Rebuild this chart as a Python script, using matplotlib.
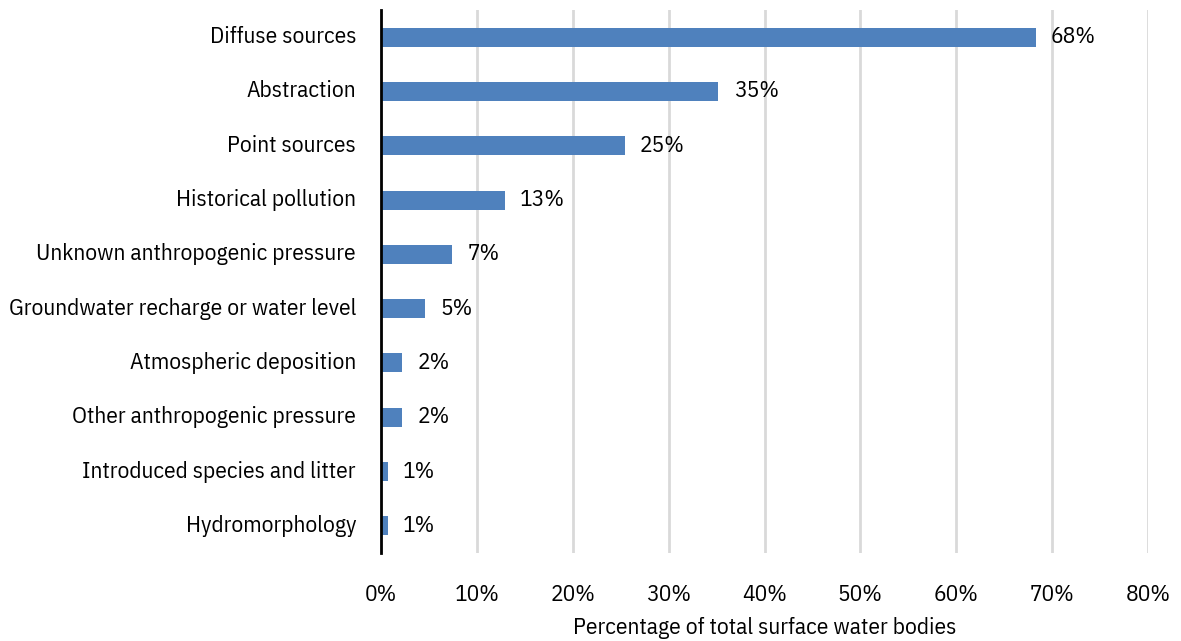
import matplotlib.pyplot as plt
import matplotlib.transforms as mtransforms
from matplotlib.ticker import PercentFormatter

categories = ['Diffuse sources', 'Abstraction', 'Point sources', 'Historical pollution',
              'Unknown anthropogenic pressure', 'Groundwater recharge or water level',
              'Atmospheric deposition', 'Other anthropogenic pressure',
              'Introduced species and litter', 'Hydromorphology']
values = [68.3, 35.2, 25.4, 12.9, 7.4, 4.6, 2.2, 2.2, 0.7, 0.7]
labels = ['68%', '35%', '25%', '13%', '7%', '5%', '2%', '2%', '1%', '1%']

plt.rcParams['font.family'] = ['IBM Plex Sans Condensed', 'DejaVu Sans']
plt.rcParams['font.size'] = 16.8

fig = plt.figure(figsize=(11.81, 6.41), dpi=100)
ax = fig.add_axes([381 / 1181, 1 - 553 / 641, (1148 - 381) / 1181, (553 - 10) / 641])

y = list(range(len(categories)))
ax.barh(y, values, height=0.35, color='#4f81bd', zorder=3)
for yi, v, lab in zip(y, values, labels):
    ax.annotate(lab, (v, yi), xytext=(11, 0), textcoords='offset points',
                va='center', ha='left')

ax.set_yticks(y)
ax.set_yticklabels(categories)
ax.set_ylim(len(categories) - 0.5, -0.5)
ax.set_xlim(0, 80)
ax.set_xticks(range(0, 81, 10))
ax.xaxis.set_major_formatter(PercentFormatter(decimals=0))
ax.grid(axis='x', color='#d9d9d9', linewidth=2, zorder=0)
for s in ['top', 'right', 'bottom']:
    ax.spines[s].set_visible(False)
ax.spines['left'].set_linewidth(2)
ax.spines['left'].set_zorder(4)
ax.tick_params(length=0, pad=18)
ax.tick_params(axis='x', pad=22)
ax.set_xlabel('Percentage of total surface water bodies', labelpad=8)

# nudge category labels up a touch
shift = mtransforms.ScaledTranslation(0, 2.5 / 100, fig.dpi_scale_trans)
for t in ax.get_yticklabels():
    t.set_transform(t.get_transform() + shift)

fig.savefig('out.png', dpi=100)
